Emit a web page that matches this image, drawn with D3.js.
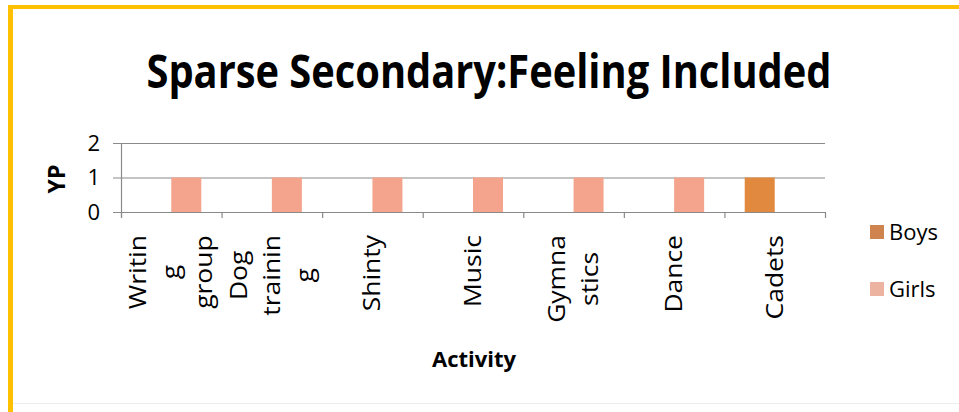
<!DOCTYPE html>
<html>
<head>
<meta charset="utf-8">
<script src="https://cdn.jsdelivr.net/npm/d3@7"></script>
<style>
  body { margin: 0; background: #fff; }
  svg text { font-family: "Open Sans", "Noto Sans", sans-serif; fill: #000; }
</style>
</head>
<body>
<div id="chart"></div>
<script>
// chart data
const activities = ["Writing group", "Dog training", "Shinty", "Music", "Gymnastics", "Dance", "Cadets"];
const activityLines = [["Writin", "g", "group"], ["Dog", "trainin", "g"], ["Shinty"], ["Music"], ["Gymna", "stics"], ["Dance"], ["Cadets"]];
const boys = [0, 0, 0, 0, 0, 0, 1];
const girls = [1, 1, 1, 1, 1, 1, 0];
const yTicks = [0, 1, 2];
const seriesNames = ["Boys", "Girls"];
const seriesColors = ["#e0893f", "#f4a48c"];
const legendColors = ["#cf8450", "#ecb4a0"];

const width = 959, height = 412;
const plot = { left: 121, right: 825, top: 143, bottom: 212 };

const svg = d3.select("#chart").append("svg")
    .attr("width", width)
    .attr("height", height);

// frame
svg.append("rect").attr("width", width).attr("height", height).attr("fill", "#fff");
svg.append("rect").attr("x", 8).attr("y", 5).attr("width", width - 8).attr("height", 4).attr("fill", "#ffc000");
svg.append("rect").attr("x", 8).attr("y", 5).attr("width", 5).attr("height", height - 5).attr("fill", "#ffc000");
svg.append("line").attr("x1", 13).attr("x2", width).attr("y1", 403.5).attr("y2", 403.5)
    .attr("stroke", "#ececec");

// title
svg.append("text")
    .attr("x", 489).attr("y", 88)
    .attr("text-anchor", "middle")
    .attr("textLength", 685)
    .attr("lengthAdjust", "spacingAndGlyphs")
    .style("font-size", "46px")
    .style("font-weight", "bold")
    .text("Sparse Secondary:Feeling Included");

const x = d3.scaleBand().domain(activities).range([plot.left, plot.right]);
const y = d3.scaleLinear().domain([0, 2]).range([plot.bottom, plot.top]);

// gridlines
svg.append("g")
    .selectAll("line")
    .data(yTicks)
    .join("line")
    .attr("x1", plot.left - 8).attr("x2", plot.right)
    .attr("y1", d => y(d) + 0.5).attr("y2", d => y(d) + 0.5)
    .attr("stroke", "#8a8a8a")
    .attr("stroke-width", 1.2);

// bars
const barW = 30;
svg.append("g").selectAll("rect")
    .data(activities.map((a, i) => ({ a, v: boys[i] })).filter(d => d.v > 0))
    .join("rect")
    .attr("x", d => x(d.a) + x.bandwidth() / 2 - barW)
    .attr("y", d => y(d.v))
    .attr("width", barW)
    .attr("height", d => y(0) - y(d.v))
    .attr("fill", seriesColors[0]);

svg.append("g").selectAll("rect")
    .data(activities.map((a, i) => ({ a, v: girls[i] })).filter(d => d.v > 0))
    .join("rect")
    .attr("x", d => x(d.a) + x.bandwidth() / 2)
    .attr("y", d => y(d.v))
    .attr("width", barW)
    .attr("height", d => y(0) - y(d.v))
    .attr("fill", seriesColors[1]);

// axes lines
svg.append("line")
    .attr("x1", plot.left + 0.5).attr("x2", plot.left + 0.5)
    .attr("y1", plot.top).attr("y2", plot.bottom + 5)
    .attr("stroke", "#8a8a8a").attr("stroke-width", 1.2);

svg.append("g").selectAll("line")
    .data(d3.range(activities.length + 1))
    .join("line")
    .attr("x1", i => plot.left + i * x.bandwidth() + 0.5)
    .attr("x2", i => plot.left + i * x.bandwidth() + 0.5)
    .attr("y1", plot.bottom).attr("y2", plot.bottom + 6)
    .attr("stroke", "#8a8a8a").attr("stroke-width", 1.2);

// y tick labels
svg.append("g").selectAll("text")
    .data(yTicks)
    .join("text")
    .attr("x", 100)
    .attr("y", d => y(d))
    .attr("dy", "0.36em")
    .attr("text-anchor", "end")
    .style("font-size", "22px")
    .text(d => d);

// y title
svg.append("text")
    .attr("transform", "translate(65,179) rotate(-90)")
    .attr("text-anchor", "middle")
    .style("font-size", "23px")
    .style("font-weight", "bold")
    .text("YP");

// category labels
const labelTop = 235, lineGap = 33, stretch = 1.15;
activities.forEach((a, i) => {
    const lines = activityLines[i];
    const cx = x(a) + x.bandwidth() / 2;
    const g = svg.append("g");
    const texts = g.selectAll("text")
        .data(lines)
        .join("text")
        .style("font-size", "23px")
        .text(d => d);
    const maxLen = d3.max(texts.nodes(), n => n.getComputedTextLength()) * stretch;
    const mid = labelTop + maxLen / 2;
    texts
        .attr("text-anchor", "middle")
        .attr("transform", (d, k) => {
            const off = (k - (lines.length - 1) / 2) * lineGap;
            return `translate(${cx + off + 8},${mid}) rotate(-90) scale(${stretch},1)`;
        });
});

// x title
svg.append("text")
    .attr("x", 474).attr("y", 367)
    .attr("text-anchor", "middle")
    .style("font-size", "22px")
    .style("font-weight", "bold")
    .text("Activity");

// legend
const legend = svg.append("g").selectAll("g")
    .data(seriesNames)
    .join("g")
    .attr("transform", (d, i) => `translate(870,${225 + i * 57})`);
legend.append("rect")
    .attr("width", 14).attr("height", 14)
    .attr("fill", (d, i) => legendColors[i]);
legend.append("text")
    .attr("x", 19).attr("y", 7)
    .attr("dy", "0.36em")
    .style("font-size", "22px")
    .text(d => d);
</script>
</body>
</html>
